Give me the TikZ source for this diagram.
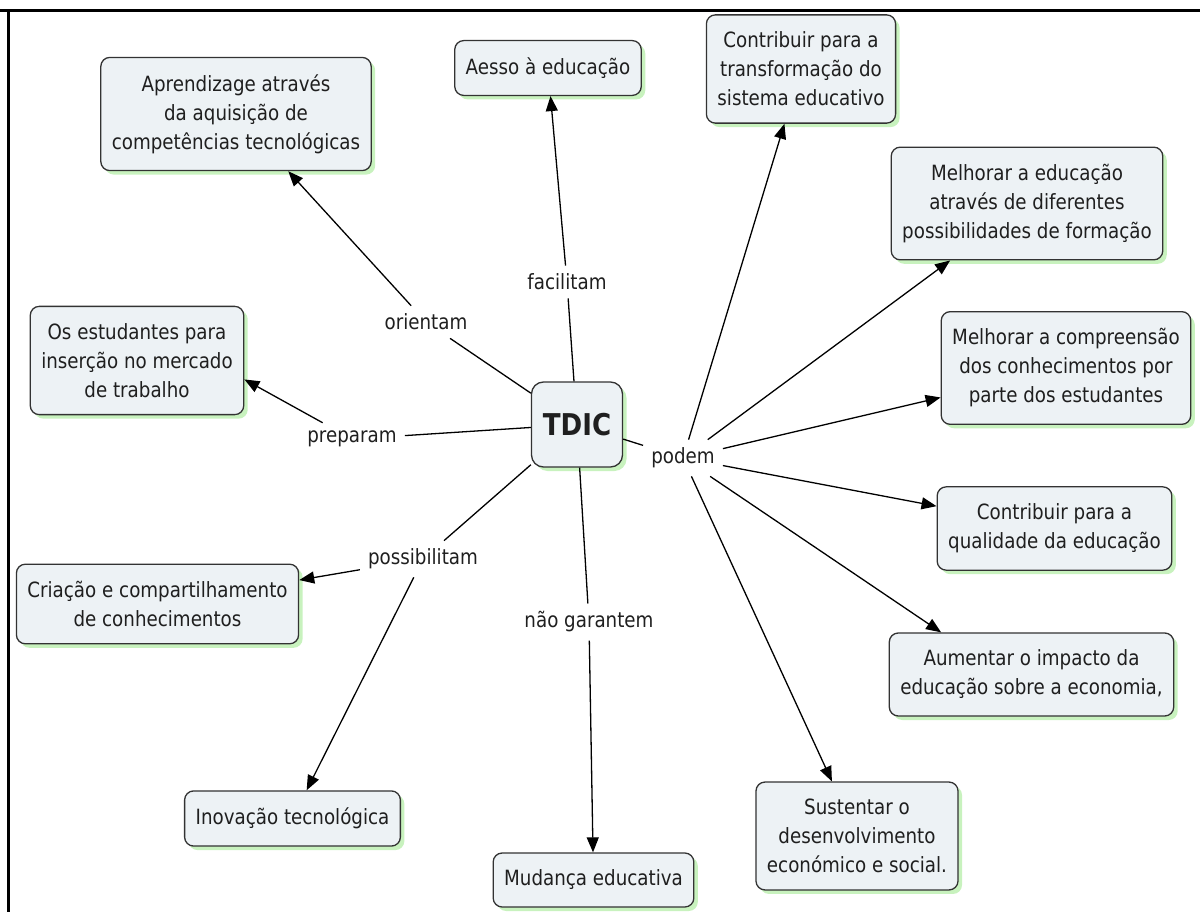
\documentclass[tikz,border=0pt]{standalone}
\usepackage{fontspec}
\setmainfont{DejaVu Sans}[FakeStretch=0.87]
\usetikzlibrary{shadows, arrows.meta}

\definecolor{boxfill}{RGB}{237,242,245}
\definecolor{shadowgreen}{RGB}{200,242,190}

\tikzset{
    concept/.style={draw=black!80, line width=1.3pt, fill=boxfill, rounded corners=9pt,
        align=center, inner xsep=11pt, inner ysep=17pt, text=black!88,
        font=\fontsize{21}{29}\selectfont,
        drop shadow={shadow xshift=4pt, shadow yshift=-4pt, fill=shadowgreen, opacity=1}},
    linkword/.style={font=\fontsize{21}{29}\selectfont, inner sep=8pt, text=black!88},
    link/.style={line width=1.3pt},
    arr/.style={line width=1.3pt, -{Triangle[length=15pt,width=12pt]}},
}

\begin{document}
\begin{tikzpicture}[x=10pt, y=-10pt]
    \useasboundingbox (0,0) rectangle (120,91.2);
    \draw[line width=3pt] (0,1.1) -- (120,1.1);
    \draw[line width=3pt] (0.8,1.1) -- (0.8,91.2);

    % central concept
    \node[concept, font=\bfseries\fontsize{30}{34}\selectfont, minimum width=91pt,
          minimum height=85pt, inner sep=0pt, rounded corners=12pt] (tdic) at (57.7,42.45) {TDIC};

    % linking words
    \node[linkword] (orient) at (42.6,32.2) {orientam};
    \node[linkword] (facil) at (56.7,28.2) {facilitam};
    \node[linkword] (prepar) at (35.2,43.9) {preparam};
    \node[linkword] (podem) at (68.3,45.8) {podem};
    \node[linkword] (possib) at (42.3,55.9) {possibilitam};
    \node[linkword] (naogar) at (58.9,62.2) {não garantem};

    % concepts
    \node[concept] (aprend) at (23.6,11.4) {Aprendizage através\\da aquisição de\\competências tecnológicas};
    \node[concept] (acesso) at (54.8,6.8) {Aesso à educação};
    \node[concept] (transf) at (80.1,6.9) {Contribuir para a\\transformação do\\sistema educativo};
    \node[concept] (formac) at (102.7,20.35) {Melhorar a educação\\através de diferentes\\possibilidades de formação};
    \node[concept] (compre) at (106.6,36.8) {Melhorar a compreensão\\dos conhecimentos por\\parte dos estudantes};
    \node[concept] (qualid) at (105.45,52.85) {Contribuir para a\\qualidade da educação};
    \node[concept] (impact) at (103.15,67.45) {Aumentar o impacto da\\educação sobre a economia,};
    \node[concept] (susten) at (85.7,83.6) {Sustentar o\\desenvolvimento\\económico e social.};
    \node[concept] (mudanc) at (59.35,88.0) {Mudança educativa};
    \node[concept] (inovac) at (29.25,81.85) {Inovação tecnológica};
    \node[concept] (criac) at (15.75,60.4) {Criação e compartilhamento\\de conhecimentos};
    \node[concept] (estud) at (13.7,36.05) {Os estudantes para\\inserção no mercado\\de trabalho};

    % connectors
    \draw[link] (tdic) -- (orient);
    \draw[arr] (orient) -- (aprend);
    \draw[link] (tdic) -- (facil);
    \draw[arr] (facil) -- (acesso);
    \draw[link] (tdic) -- (prepar);
    \draw[arr] (prepar) -- (estud.-10);
    \draw[link] (tdic) -- (possib);
    \draw[arr] (possib) -- (criac);
    \draw[arr] (possib) -- (inovac);
    \draw[link] (tdic) -- (naogar);
    \draw[arr] (naogar) -- (mudanc);
    \draw[link] (tdic) -- (podem);
    \draw[arr] (podem) -- (transf);
    \draw[arr] (podem) -- (formac);
    \draw[arr] (podem) -- (compre);
    \draw[arr] (podem) -- (qualid);
    \draw[arr] (podem) -- (impact.155);
    \draw[arr] (podem) -- (susten);
\end{tikzpicture}
\end{document}
